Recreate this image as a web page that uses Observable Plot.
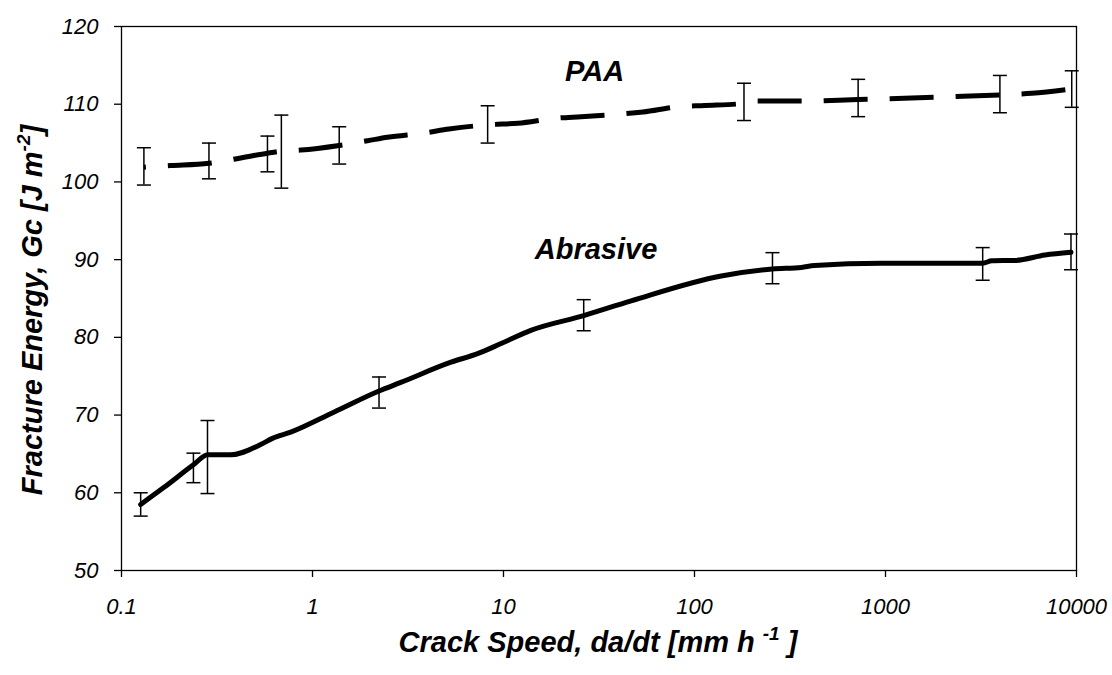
<!DOCTYPE html>
<html><head><meta charset="utf-8">
<script src="https://cdn.jsdelivr.net/npm/d3@7"></script>
<script src="https://cdn.jsdelivr.net/npm/@observablehq/plot@0.6"></script>
<style>html,body{margin:0;padding:0;background:#fff;}</style>
</head><body><div id="chart"></div>
<script>
// ---- Data ----
const abrasiveLineX = [0.126, 0.167, 0.238, 0.283, 0.373, 0.535, 0.617, 0.769, 1.30, 2.23, 2.90, 5.31, 7.32, 9.71, 13.9, 26.3, 46.6, 138, 256, 363, 425, 953, 3227, 3600, 4764, 6840, 9356];
const abrasiveLineY = [58.5, 60.7, 63.6, 64.9, 64.9, 66.2, 67.0, 67.8, 70.4, 73.1, 74.2, 76.8, 77.9, 79.2, 80.9, 82.8, 84.7, 87.9, 88.8, 89.0, 89.25, 89.55, 89.55, 89.85, 89.9, 90.6, 90.95];
const abrasiveErrX = [0.126, 0.238, 0.282, 2.23, 26.3, 256, 3227, 9356];
const abrasiveErrY = [58.5, 63.2, 64.6, 72.9, 82.85, 88.9, 89.45, 91.0];
const abrasiveErrE = [1.5, 1.9, 4.7, 2.0, 2.0, 2.0, 2.1, 2.3];

const paaLineX = [0.131, 0.181, 0.287, 0.364, 0.492, 0.581, 0.687, 0.868, 1.38, 1.94, 2.47, 3.85, 5.18, 8.26, 11.9, 18.8, 25.5, 39.7, 53.7, 83.5, 113, 181.6, 211, 341, 719, 1849, 3972, 5821, 9441];
const paaLineY = [101.9, 102.1, 102.4, 102.8, 103.4, 103.7, 103.96, 104.1, 104.7, 105.3, 105.75, 106.3, 106.8, 107.35, 107.55, 108.2, 108.4, 108.7, 109.0, 109.7, 109.84, 110.1, 110.4, 110.4, 110.6, 110.9, 111.2, 111.4, 111.95];
const paaErrX = [0.131, 0.287, 0.581, 0.687, 1.38, 8.26, 181.6, 719, 3972, 9441];
const paaErrY = [102.0, 102.7, 103.6, 103.9, 104.7, 107.4, 110.3, 110.8, 111.3, 111.95];
const paaErrE = [2.4, 2.3, 2.3, 4.7, 2.4, 2.4, 2.4, 2.4, 2.4, 2.35];

const seriesNames = ["PAA", "Abrasive"];
const seriesLabelX = [30, 30.5];
const seriesLabelY = [114.2, 91.3];

const xTicks = [0.1, 1, 10, 100, 1000, 10000];
const xTickLabels = ["0.1", "1", "10", "100", "1000", "10000"];
const yTicks = [50, 60, 70, 80, 90, 100, 110, 120];
const xDomain = [0.1, 10000];
const yDomain = [50, 120];

// ---- Tables built from the arrays ----
const abrasiveLine = abrasiveLineX.map((x, i) => ({x, y: abrasiveLineY[i]}));
const paaLine = paaLineX.map((x, i) => ({x, y: paaLineY[i]}));
const errRows = [
  ...abrasiveErrX.map((x, i) => ({x, lo: abrasiveErrY[i] - abrasiveErrE[i], hi: abrasiveErrY[i] + abrasiveErrE[i]})),
  ...paaErrX.map((x, i) => ({x, lo: paaErrY[i] - paaErrE[i], hi: paaErrY[i] + paaErrE[i]}))
];
const labelRows = seriesNames.map((t, i) => ({t, x: seriesLabelX[i], y: seriesLabelY[i]}));

const capSymbol = {
  draw(context, size) {
    const r = Math.sqrt(size / Math.PI);
    context.moveTo(-r, 0);
    context.lineTo(r, 0);
  }
};

const FONT = "Liberation Sans, Arial, Helvetica, sans-serif";

const chart = Plot.plot({
  width: 1112,
  height: 675,
  marginLeft: 121,
  marginRight: 36,
  marginTop: 26,
  marginBottom: 105,
  style: {background: "#fff", color: "#000", fontFamily: FONT, overflow: "visible"},
  x: {type: "log", domain: xDomain},
  y: {domain: yDomain},
  marks: [
    Plot.frame({stroke: "#000", strokeWidth: 1.3}),
    Plot.axisY({ticks: yTicks, tickSize: 7, tickPadding: 16, fontSize: 22, fontStyle: "italic", label: null, strokeWidth: 1.3}),
    Plot.axisX({ticks: xTicks, tickFormat: d => xTickLabels[xTicks.indexOf(d)], tickSize: 7, tickPadding: 21, fontSize: 22, fontStyle: "italic", label: null, strokeWidth: 1.3}),
    Plot.ruleX(errRows, {x: "x", y1: "lo", y2: "hi", stroke: "#000", strokeWidth: 1.5}),
    Plot.dot(errRows, {x: "x", y: "lo", symbol: capSymbol, r: 7, stroke: "#000", strokeWidth: 1.5, fill: "none"}),
    Plot.dot(errRows, {x: "x", y: "hi", symbol: capSymbol, r: 7, stroke: "#000", strokeWidth: 1.5, fill: "none"}),
    Plot.line(paaLine, {x: "x", y: "y", curve: "monotone-x", stroke: "#000", strokeWidth: 5, strokeDasharray: "44,22", strokeDashoffset: 42, strokeLinecap: "butt"}),
    Plot.line(abrasiveLine, {x: "x", y: "y", curve: "monotone-x", stroke: "#000", strokeWidth: 5, strokeLinejoin: "round", strokeLinecap: "round"}),
    Plot.text(labelRows, {x: "x", y: "y", text: "t", fontSize: 29, fontWeight: "bold", fontStyle: "italic", fill: "#000"})
  ]
});

const svg = d3.select(chart);
// Y axis title
const yt = svg.append("text")
  .attr("transform", "translate(42,310) rotate(-90)")
  .attr("text-anchor", "middle")
  .attr("font-family", FONT).attr("font-size", 29).attr("font-weight", "bold").attr("font-style", "italic")
  .attr("fill", "#000");
yt.append("tspan").text("Fracture Energy, Gc [J m");
yt.append("tspan").attr("dy", -12).attr("font-size", 19).text("-2");
yt.append("tspan").attr("dy", 12).text("]");
// X axis title
const xt = svg.append("text")
  .attr("x", 598).attr("y", 652)
  .attr("text-anchor", "middle")
  .attr("font-family", FONT).attr("font-size", 29).attr("font-weight", "bold").attr("font-style", "italic")
  .attr("fill", "#000");
xt.append("tspan").text("Crack Speed, da/dt [mm h ");
xt.append("tspan").attr("dy", -12).attr("font-size", 19).text("-1");
xt.append("tspan").attr("dy", 12).text(" ]");

document.getElementById("chart").appendChild(chart);
</script>
</body></html>
